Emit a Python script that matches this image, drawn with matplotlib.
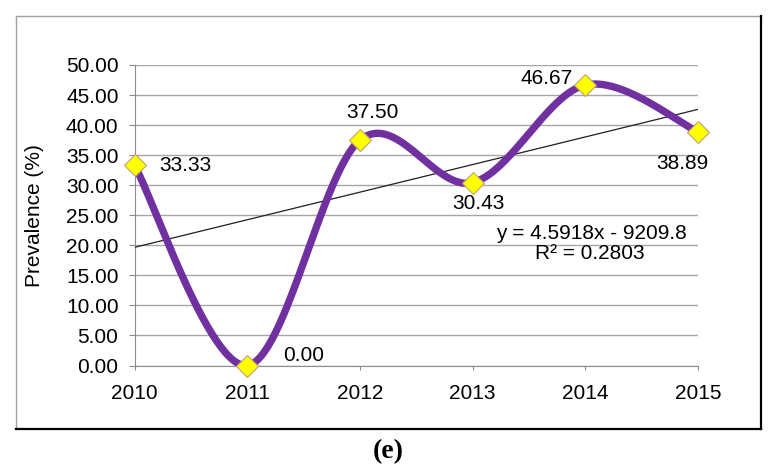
import numpy as np
import matplotlib
matplotlib.use("Agg")
import matplotlib.pyplot as plt
from matplotlib.lines import Line2D

years = [2010, 2011, 2012, 2013, 2014, 2015]
prevalence = [33.33, 0.00, 37.50, 30.43, 46.67, 38.89]
point_labels = ["33.33", "0.00", "37.50", "30.43", "46.67", "38.89"]
yticks = [0, 5, 10, 15, 20, 25, 30, 35, 40, 45, 50]
equation = "y = 4.5918x - 9209.8"
r_squared = "R² = 0.2803"

# label offsets in points (dx, dy) and alignment
label_pos = [(18, 0, "left", "center"),
             (26, 7, "left", "center"),
             (9, 20, "center", "center"),
             (4, -15, "center", "center"),
             (-28, 5, "center", "center"),
             (-11, -23, "center", "center")]

plt.rcParams['font.family'] = ['Liberation Sans', 'DejaVu Sans']
FS = 15


def smooth(xs, ys, n=60):
    # catmull-rom style bezier like excel's smoothed line
    p = np.column_stack([xs, ys]).astype(float)
    p = np.vstack([p[0], p, p[-1]])
    out = []
    for i in range(1, len(p) - 2):
        p0, p1, p2, p3 = p[i - 1], p[i], p[i + 1], p[i + 2]
        c1 = p1 + (p2 - p0) / 6
        c2 = p2 - (p3 - p1) / 6
        t = np.linspace(0, 1, n)[:, None]
        seg = ((1 - t) ** 3) * p1 + 3 * ((1 - t) ** 2) * t * c1 + 3 * (1 - t) * t ** 2 * c2 + t ** 3 * p2
        out.append(seg)
    out = np.vstack(out)
    return out[:, 0], out[:, 1]


fig = plt.figure(figsize=(7.71, 4.71), dpi=100)
ax = fig.add_axes([134.5 / 771, 1 - 365.5 / 471, (698 - 134.5) / 771, 300.5 / 471])

# frame around the chart
W, H = 771, 471
x0, y0, x1, y1 = 16 / W, 1 - 16 / H, 761 / W, 1 - 429 / H
fig.add_artist(Line2D([x0, x0], [y1, y0], color="#a0a0a0", lw=1.0))
fig.add_artist(Line2D([x0, x1], [y0, y0], color="#a0a0a0", lw=1.0))
fig.add_artist(Line2D([x1, x1], [y0, y1], color="black", lw=1.6))
fig.add_artist(Line2D([x0, x1], [y1, y1], color="black", lw=1.6))

ax.set_xlim(2010, 2015)
ax.set_ylim(0, 50)
ax.set_yticks(yticks)
ax.set_yticklabels(["%.2f" % v for v in yticks], fontsize=FS)
ax.set_xticks(years)
ax.set_xticklabels([str(y) for y in years], fontsize=FS)
ax.grid(axis="y", color="#a6a6a6", lw=1.0)
ax.set_axisbelow(True)
for s in ["top", "right"]:
    ax.spines[s].set_visible(False)
for s in ["left", "bottom"]:
    ax.spines[s].set_color("#8c8c8c")
ax.tick_params(axis="both", direction="out", color="#8c8c8c", length=4.5, pad=7)
ax.tick_params(axis="x", length=3, pad=10)
ax.set_ylabel("Prevalence (%)", fontsize=FS, labelpad=16)

# trend line
coef = np.polyfit(years, prevalence, 1)
tx = np.array([years[0], years[-1]])
ax.plot(tx, np.polyval(coef, tx), color="#202020", lw=0.9, zorder=3)

sx, sy = smooth(years, prevalence)
ax.plot(sx, sy, color="#7030a0", lw=5.3, solid_capstyle="round", zorder=4, clip_on=False)
ax.plot(years, prevalence, ls="none", marker="D", ms=11.5, mfc="#ffff00",
        mec="#c0a070", mew=0.8, zorder=5, clip_on=False)

for x, y, lab, (dx, dy, ha, va) in zip(years, prevalence, point_labels, label_pos):
    ax.annotate(lab, (x, y), xytext=(dx, dy), textcoords="offset points",
                ha=ha, va=va, fontsize=FS, zorder=6)

ax.text(2014.05, 22.0, equation, ha="center", va="center", fontsize=FS)
ax.text(2014.04, 18.6, r_squared, ha="center", va="center", fontsize=FS)

fig.text(388 / W, 1 - 452 / H, "(e)", ha="center", va="center",
         fontsize=20, family=["Liberation Serif", "DejaVu Serif"], fontweight="bold")

fig.savefig("out.png", dpi=100)
